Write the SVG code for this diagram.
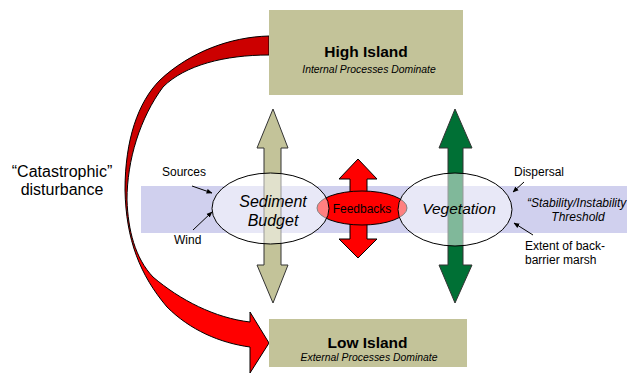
<svg xmlns="http://www.w3.org/2000/svg" width="627" height="373" viewBox="0 0 627 373">
<style>
.box{fill:#c3c399}
.t{font-family:"Liberation Sans",Arial,sans-serif;fill:#000}
.b{font-weight:bold;font-size:15.5px}
.sub{font-style:italic;font-size:10.4px}
.lbl{font-size:12px}
.ell{fill:#fff;fill-opacity:0.5;stroke:#000;stroke-width:1}
.ptr{stroke:#000;stroke-width:1;fill:none;marker-end:url(#ah)}
</style>
<defs>
<linearGradient id="rg" gradientUnits="userSpaceOnUse" x1="0" y1="185" x2="0" y2="205">
<stop offset="0" stop-color="#cc0000"/>
<stop offset="1" stop-color="#ff0000"/>
</linearGradient>
<marker id="ah" viewBox="0 0 10 10" refX="9" refY="5" markerWidth="6" markerHeight="6" orient="auto" markerUnits="userSpaceOnUse">
<path d="M0,1 L10,5 L0,9 Z" fill="#000"/>
</marker>
</defs>

<rect id="band" x="141" y="186" width="486" height="47" fill="#d0d0ee"/>

<g id="disturbance-arrow">
<path d="M269,36 C230,37 190,52 160,80 C138,102 125,140 125,190 C126,240 140,275 167,307 C190,330 220,343 250,347 L250,373 L269,343 L250,312 L250,322 C215,318 180,300 153,277 C135,258 128,230 127,200 C127,160 140,118 163,87 C185,65 225,55 269,55 Z" fill="url(#rg)" stroke="#000" stroke-width="1"/>
</g>

<g id="high-island">
<rect class="box" x="269" y="10" width="194" height="85"/>
<text class="t b" x="366" y="57" text-anchor="middle">High Island</text>
<text class="t sub" x="369" y="73" text-anchor="middle">Internal Processes Dominate</text>
</g>

<g id="low-island">
<rect class="box" x="269" y="319" width="198" height="48"/>
<text class="t b" x="367.5" y="348" text-anchor="middle">Low Island</text>
<text class="t sub" x="369" y="361" text-anchor="middle">External Processes Dominate</text>
</g>

<g id="sediment-arrow">
<polygon points="273,109 257,148 264,148 264,265 257,265 273,303 288,265 281,265 281,148 288,148" fill="#c3c399" stroke="#333" stroke-width="1"/>
</g>
<g id="vegetation-arrow">
<polygon points="455,109 439,148 448,148 448,265 439,265 455,303 472,265 463,265 463,148 472,148" fill="#007035" stroke="#333" stroke-width="1"/>
</g>
<g id="feedback-arrow">
<polygon points="358,159 339,179 350,179 350,239 339,239 358,258 377,239 367,239 367,179 377,179" fill="#ff0000" stroke="#000" stroke-width="1"/>
</g>

<g id="feedbacks">
<ellipse cx="362" cy="208" rx="45" ry="17" fill="#ff0000" stroke="#000" stroke-width="1"/>
</g>
<g id="sediment-budget">
<ellipse class="ell" cx="270.5" cy="208.5" rx="58.5" ry="35.5"/>
<text class="t" x="273" y="207" text-anchor="middle" font-size="16" font-style="italic">Sediment</text>
<text class="t" x="273" y="226" text-anchor="middle" font-size="16" font-style="italic">Budget</text>
</g>
<g id="vegetation">
<ellipse class="ell" cx="455" cy="209.5" rx="57" ry="36.5"/>
<text class="t" x="459" y="214" text-anchor="middle" font-size="15.5" font-style="italic">Vegetation</text>
</g>
<text class="t" x="362" y="213" text-anchor="middle" font-size="12">Feedbacks</text>

<g id="connectors">
<line class="ptr" x1="192" y1="186" x2="212" y2="193"/>
<line class="ptr" x1="193" y1="230" x2="212" y2="212"/>
<line class="ptr" x1="524" y1="182" x2="513" y2="192"/>
<line class="ptr" x1="533" y1="235" x2="514" y2="223"/>
</g>

<g id="labels">
<text class="t lbl" x="162" y="176">Sources</text>
<text class="t lbl" x="174" y="244">Wind</text>
<text class="t lbl" x="514" y="176">Dispersal</text>
<text class="t lbl" x="525" y="250">Extent of back-</text>
<text class="t lbl" x="525" y="264">barrier marsh</text>
<text class="t lbl" x="527" y="207" font-style="italic">“Stability/Instability</text>
<text class="t lbl" x="578" y="221" text-anchor="middle" font-style="italic">Threshold</text>
<text class="t" x="62" y="177" text-anchor="middle" font-size="16">“Catastrophic”</text>
<text class="t" x="62" y="195" text-anchor="middle" font-size="16">disturbance</text>
</g>
</svg>
